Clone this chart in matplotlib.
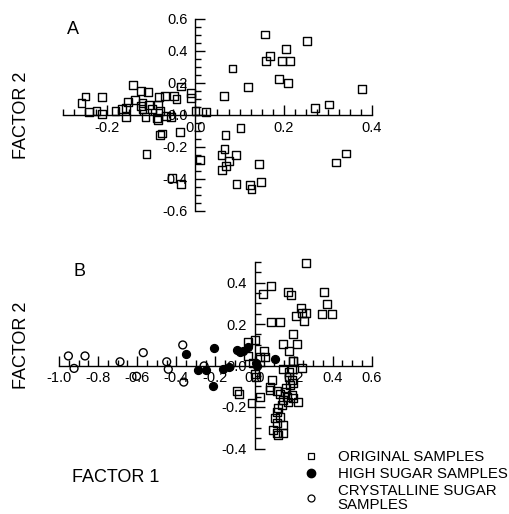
import matplotlib.pyplot as plt
from matplotlib.ticker import MultipleLocator
from matplotlib.lines import Line2D

plt.rcParams['font.family'] = ['Liberation Sans', 'DejaVu Sans']

# panel A - original samples (factor 1, factor 2)
a_x = [0.158, 0.206, 0.168, 0.160, 0.196, 0.215, 0.084, 0.120, 0.190, 0.209,
       0.064, 0.252, 0.378, 0.271, 0.303, -0.010, -0.010, 0.000, 0.024,
       0.102, 0.068, 0.066, 0.059, 0.092, 0.077, 0.069, 0.060, 0.144, 0.093,
       0.123, 0.127, 0.148, 0.319, 0.341, 0.010,
       -0.258, -0.249, -0.212, -0.242, -0.224, -0.211, -0.181, -0.166, -0.157,
       -0.152, -0.158, -0.141, -0.137, -0.123, -0.108, -0.124, -0.120, -0.105,
       -0.113, -0.098, -0.083, -0.085, -0.081, -0.087, -0.068, -0.066, -0.049,
       -0.043, -0.032, -0.056, -0.084, -0.120,
       -0.111, -0.081, -0.075, -0.034, -0.032, -0.053]
a_y = [0.503, 0.415, 0.367, 0.340, 0.340, 0.340, 0.291, 0.173, 0.223, 0.200,
       0.120, 0.462, 0.161, 0.045, 0.066, 0.140, 0.107, 0.025, 0.020,
       -0.083, -0.126, -0.215, -0.252, -0.250, -0.285, -0.318, -0.345, -0.308,
       -0.433, -0.440, -0.462, -0.421, -0.297, -0.241, -0.280,
       0.074, 0.116, 0.113, 0.017, 0.023, 0.006, 0.023, 0.037, 0.043,
       0.080, -0.014, 0.190, 0.095, 0.149, 0.144, 0.058, 0.037, 0.062,
       -0.014, 0.037, 0.110, 0.064, 0.023, -0.019, 0.120, -0.008, 0.120,
       0.099, 0.178, -0.014, -0.031, 0.074,
       -0.243, -0.124, -0.116, -0.107, -0.433, -0.396]

# panel B - original samples
b_orig_x = [0.262, 0.083, 0.045, 0.173, 0.187, 0.357, 0.369, 0.344, 0.398, 0.236,
            0.241, 0.263, 0.211, 0.255, 0.084, 0.129, 0.195, 0.144, 0.219, 0.176,
            0.195, 0.147, 0.190, 0.241,
            -0.035, 0.003, -0.032, 0.049, 0.028, 0.054, -0.009, 0.003, 0.008,
            -0.015, 0.028, -0.091, -0.079, 0.079, 0.198,
            0.088, 0.178, 0.190, 0.198, 0.181, 0.079, 0.113, 0.130, 0.155, 0.165,
            0.190, 0.198, 0.147, 0.173, 0.224, 0.139, 0.122, 0.113, 0.105, 0.113,
            0.147, 0.096, 0.113, 0.147, 0.122, 0.130, 0.160, 0.175]
b_orig_y = [0.493, 0.383, 0.345, 0.354, 0.338, 0.354, 0.295, 0.247, 0.247, 0.279,
            0.254, 0.254, 0.239, 0.213, 0.208, 0.208, 0.150, 0.104, 0.104, 0.071,
            0.022, -0.017, -0.017, -0.014,
            0.112, 0.123, 0.047, 0.070, 0.043, 0.042, 0.013, -0.043, -0.054,
            -0.179, -0.153, -0.121, -0.137, -0.102, 0.023,
            -0.070, -0.054, -0.070, -0.086, -0.095, -0.118, -0.123, -0.139, -0.126,
            -0.150, -0.143, -0.158, -0.166, -0.174, -0.177, -0.190, -0.206, -0.223,
            -0.254, -0.279, -0.287, -0.311, -0.327, -0.327, -0.335, -0.250, -0.110,
            -0.030]

# panel B - high sugar samples
b_high_x = [-0.350, -0.207, -0.287, -0.250, -0.211, -0.160, -0.130, -0.091,
            -0.074, -0.032, 0.008, 0.014, 0.105, -0.060]
b_high_y = [0.055, 0.083, -0.022, -0.022, -0.097, -0.018, -0.006, 0.075,
            0.067, 0.088, 0.011, -0.002, 0.030, 0.070]

# panel B - crystalline sugar samples
b_cryst_x = [-0.952, -0.923, -0.867, -0.688, -0.569, -0.449, -0.441, -0.367,
             -0.258, -0.603, -0.362]
b_cryst_y = [0.046, -0.014, 0.046, 0.018, 0.062, 0.018, -0.018, 0.099,
             -0.002, -0.052, -0.080]

a_ticks = [-0.2, 0.0, 0.2, 0.4]
b_ticks = [-1.0, -0.8, -0.6, -0.4, -0.2, 0.0, 0.2, 0.4, 0.6]

W, H = 510, 514
fig = plt.figure(figsize=(W / 100, H / 100), dpi=100)

ax1 = fig.add_axes([63 / W, 1 - 211 / H, 309 / W, 192 / H])
ax2 = fig.add_axes([59 / W, 1 - 448.5 / H, 312.8 / W, 186.75 / H])


def style(ax, xlim, ylim, xt, yt):
    ax.set_xlim(*xlim)
    ax.set_ylim(*ylim)
    for s in ['top', 'right']:
        ax.spines[s].set_visible(False)
    ax.spines['left'].set_position(('data', 0))
    ax.spines['bottom'].set_position(('data', 0))
    ax.spines['left'].set_bounds(*ylim)
    ax.spines['bottom'].set_bounds(*xlim)
    for s in ['left', 'bottom']:
        ax.spines[s].set_linewidth(1.0)
    ax.set_xticks(xt)
    ax.set_yticks(yt)
    ax.set_xticklabels([f'{v:.1f}' for v in xt])
    ax.set_yticklabels([f'{v:.1f}' for v in yt])
    ax.tick_params(which='major', direction='in', length=7, width=1.0,
                   labelsize=10.5)
    ax.tick_params(which='minor', direction='in', length=4, width=1.0)
    ax.tick_params(axis='x', pad=4)
    ax.tick_params(axis='y', pad=5.5)
    ax.set_facecolor('none')


style(ax1, (-0.3, 0.4), (-0.6, 0.6), a_ticks, [-0.6, -0.4, -0.2, 0.0, 0.2, 0.4, 0.6])
ax1.xaxis.set_minor_locator(MultipleLocator(0.025))
ax1.yaxis.set_minor_locator(MultipleLocator(0.05))

style(ax2, (-1.0, 0.6), (-0.4, 0.5), b_ticks, [-0.4, -0.2, 0.0, 0.2, 0.4])
ax2.xaxis.set_minor_locator(MultipleLocator(0.05))
ax2.yaxis.set_minor_locator(MultipleLocator(0.05))

sq = dict(marker='s', s=32, facecolors='none', edgecolors='black',
          linewidths=1.0, clip_on=False)
ax1.scatter(a_x, a_y, **sq)
ax2.scatter(b_orig_x, b_orig_y, **sq)
ax2.scatter(b_high_x, b_high_y, marker='o', s=32, color='black', clip_on=False)
ax2.scatter(b_cryst_x, b_cryst_y, marker='o', s=32, facecolors='none',
            edgecolors='black', linewidths=1.0, clip_on=False)

fig.text(73 / W, 1 - 30 / H, 'A', fontsize=13, ha='center', va='center')
fig.text(80 / W, 1 - 272 / H, 'B', fontsize=13, ha='center', va='center')
fig.text(22 / W, 1 - 115 / H, 'FACTOR 2', rotation=90, fontsize=13,
         ha='center', va='center')
fig.text(22 / W, 1 - 345 / H, 'FACTOR 2', rotation=90, fontsize=13,
         ha='center', va='center')
fig.text(116 / W, 1 - 478 / H, 'FACTOR 1', fontsize=13, ha='center', va='center')

handles = [
    Line2D([], [], ls='', marker='s', ms=5, mfc='none', mec='black', mew=0.9),
    Line2D([], [], ls='', marker='o', ms=6, mfc='black', mec='black'),
    Line2D([], [], ls='', marker='o', ms=5, mfc='none', mec='black', mew=0.9),
]
labels = ['ORIGINAL SAMPLES', 'HIGH SUGAR SAMPLES', 'CRYSTALLINE SUGAR\nSAMPLES']
leg = fig.legend(handles, labels, loc='upper left',
                 bbox_to_anchor=(304 / W, 1 - 450 / H), frameon=False,
                 fontsize=10.8, handlelength=1.0, handletextpad=1.25,
                 labelspacing=0.2, borderpad=0, borderaxespad=0)
leg.get_texts()[2].set_linespacing(1.0)

fig.savefig('out.png', dpi=100)
